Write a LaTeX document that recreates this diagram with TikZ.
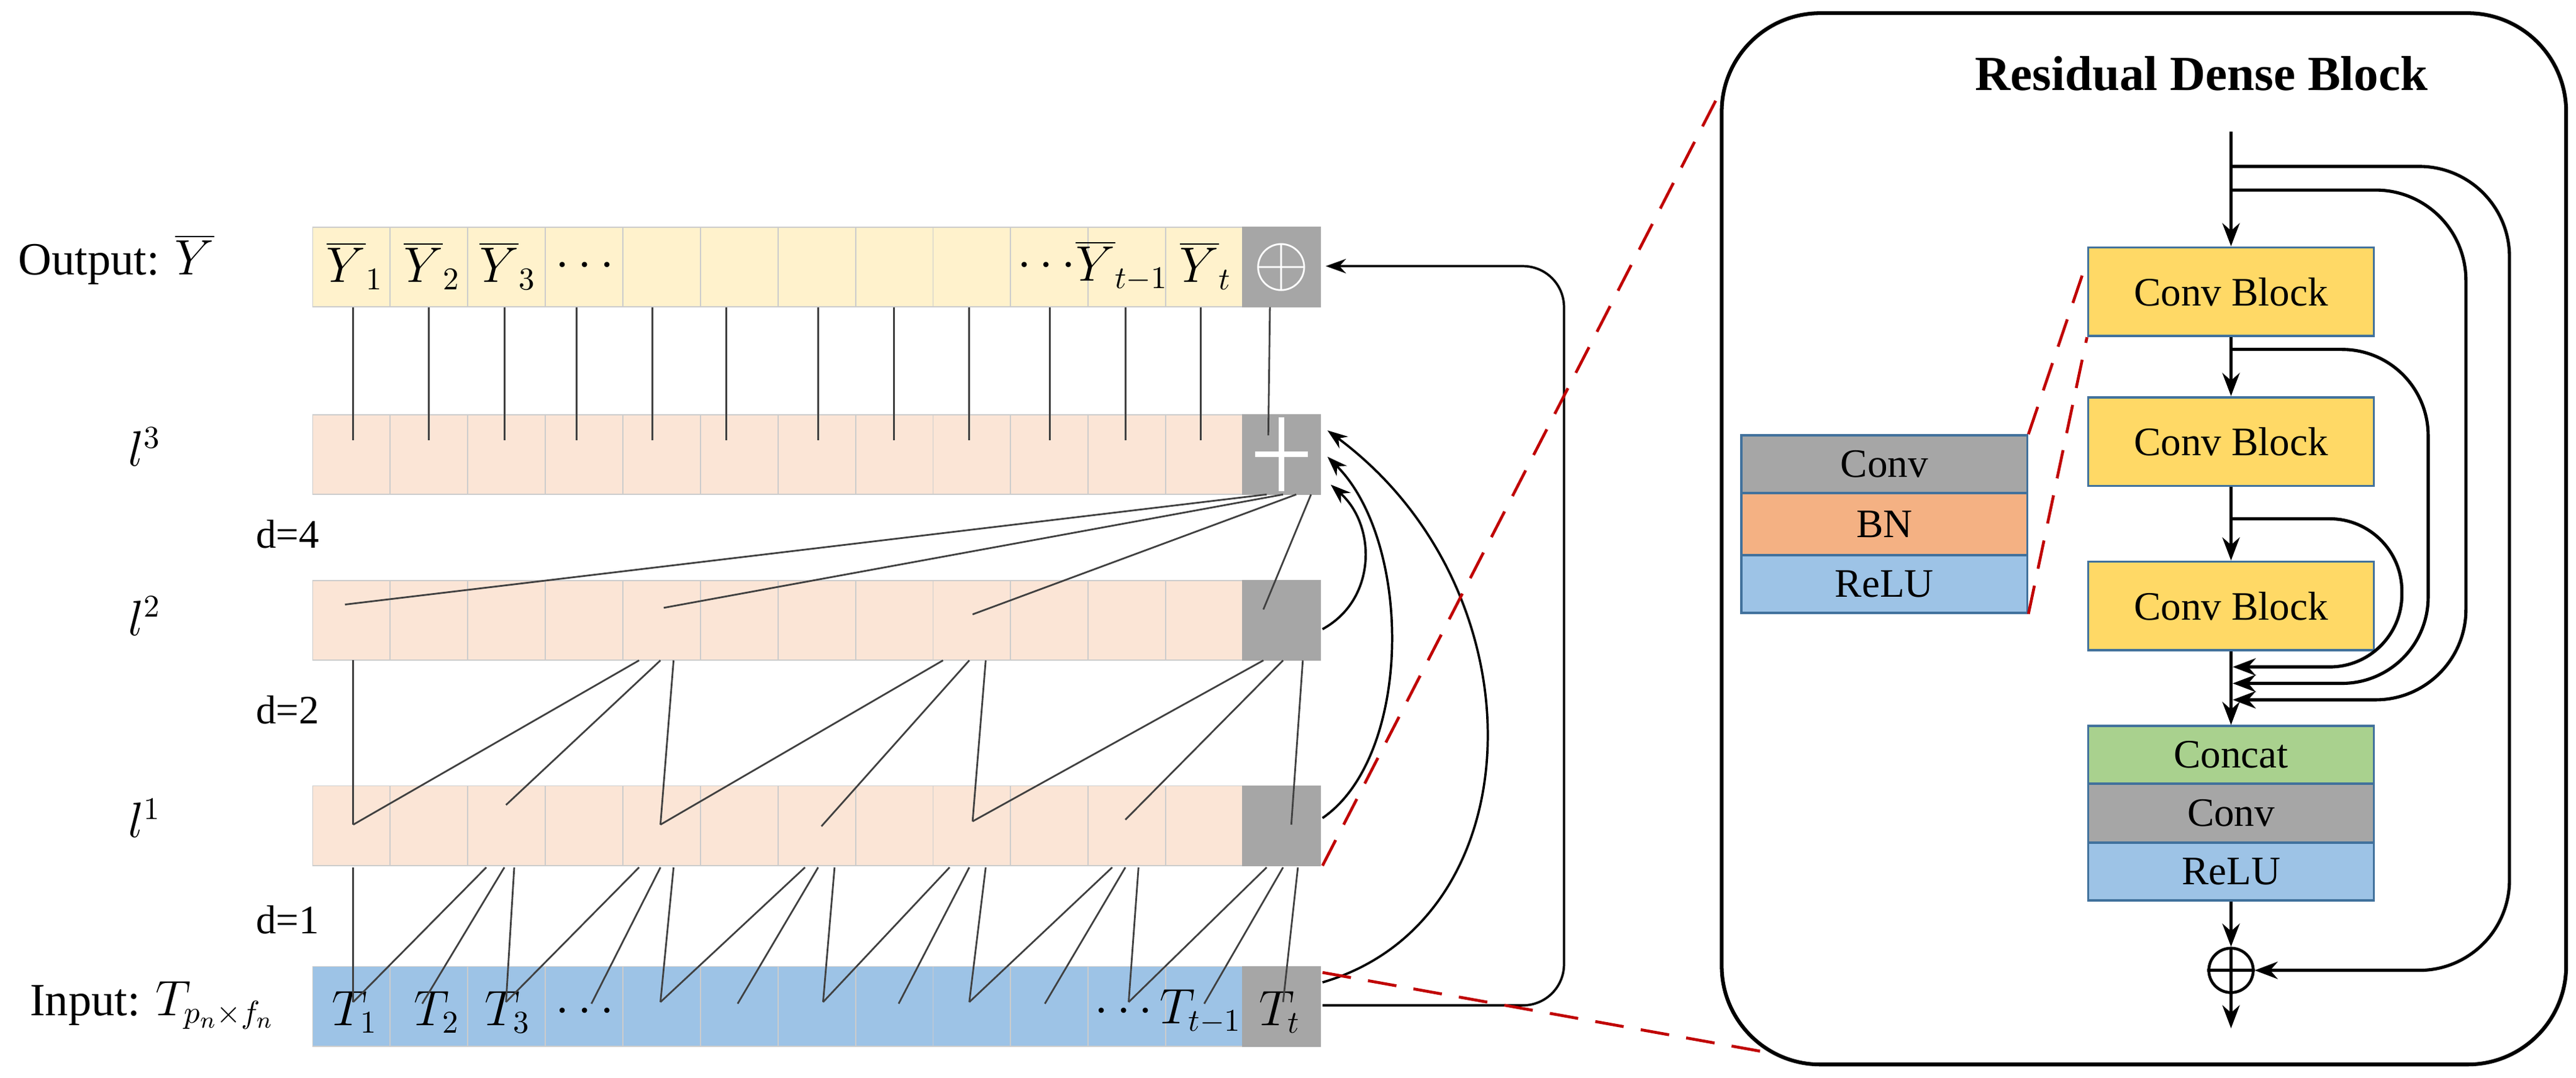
\documentclass[tikz,border=0pt]{standalone}
\usepackage{fontspec}
\setmainfont{Liberation Serif}
\usetikzlibrary{arrows.meta,calc}
\definecolor{cy}{HTML}{FFF2CC}
\definecolor{cp}{HTML}{FBE5D6}
\definecolor{cb}{HTML}{9DC3E6}
\definecolor{cg}{HTML}{A6A6A6}
\definecolor{cyy}{HTML}{FFD966}
\definecolor{cbn}{HTML}{F4B183}
\definecolor{ccat}{HTML}{A9D18E}
\definecolor{bord}{HTML}{41719C}
\definecolor{dred}{HTML}{C00000}
\definecolor{lnc}{HTML}{404040}
\begin{document}
\begin{tikzpicture}[x=0.02cm,y=-0.02cm,font=\fontsize{16}{18}\selectfont,
 cell/.style={draw=white!80!black,line width=0.4pt,minimum width=0.944cm,minimum height=0.97cm,inner sep=0,anchor=north west},
 blk/.style={draw=bord,line width=0.8pt,minimum width=3.48cm,inner sep=0,font=\fontsize{14}{16}\selectfont},
 arr/.style={-{Stealth[length=7pt,width=5pt]},line width=0.8pt},
 arrb/.style={-{Stealth[length=8pt,width=6pt]},line width=1.1pt},
 ln/.style={line width=0.6pt,lnc},
 rd/.style={dred,line width=1pt,dash pattern=on 10pt off 6pt}]
\useasboundingbox (0,0) rectangle (1568,656);
% rows
\foreach \r/\y/\c in {o/138/cy,a/252/cp,b/353/cp,c/478/cp,i/588/cb}{
 \foreach \k in {0,...,11}{\node[cell,fill=\c] (\r\k) at ({190+47.2*\k},\y) {};}
 \node[cell,fill=cg,draw=cg] (\r12) at (756,\y) {};
}
\foreach \x/\t in {216/{\overline{Y}_1},263/{\overline{Y}_2},309/{\overline{Y}_3},356/{\cdots},637/{\cdots},683/{\overline{Y}_{t-1}},734/{\overline{Y}_t}}{\node at (\x,162) {$\t$};}
\foreach \x/\t in {216/{T_1},266/{T_2},309/{T_3},356/{\cdots},684/{\cdots},731/{T_{t-1}},779/{T_t}}{\node at (\x,616) {$\t$};}
\node[text=white,font=\fontsize{28}{28}\selectfont] at (o12) {$\oplus$};
\draw[white,line width=2pt] ([xshift=-0.32cm]a12.center) -- ([xshift=0.32cm]a12.center) ([yshift=-0.45cm]a12.center) -- ([yshift=0.45cm]a12.center);
% left labels
\node[anchor=west] (Lo) at (5,158) {Output: $\overline{Y}$};
\node (L3) at (88,272) {$l^3$};
\node[font=\fontsize{14}{16}\selectfont] (d4) at (175,325) {d=4};
\node (L2) at (88,375) {$l^2$};
\node[font=\fontsize{14}{16}\selectfont] (d2) at (175,432) {d=2};
\node (L1) at (88,498) {$l^1$};
\node[font=\fontsize{14}{16}\selectfont] (d1) at (175,560) {d=1};
\node[anchor=west] (Li) at (12,612) {Input: $T_{p_n\times f_n}$};
% output-l3 lines
\foreach \x in {215,261,307,351,397,442,498,544,590,639,685,731}{\draw[ln] (\x,187) -- (\x,268);}
\draw[ln] (773,187) -- (772,265);
% l3 -> l2
\foreach \s/\x/\y in {771/210/368,781/404/370,789/592/374,798/769/371}{\draw[ln] (\s,301) -- (\x,\y);}
% l2 -> l1
\draw[ln] (215,402) -- (215,502);
\foreach \sa/\sb/\sc/\xa/\ya/\xb/\yb/\xc/\yc in {389/402/410/215/502/308/490/402/502,574/590/600/402/502/500/503/592/500,769/781/793/592/500/685/499/786/502}{
 \draw[ln] (\sa,402) -- (\xa,\ya) (\sb,402) -- (\xb,\yb) (\sc,402) -- (\xc,\yc);}
% l1 -> input
\draw[ln] (215,528) -- (215,610);
\foreach \sa/\sb/\sc/\xa/\xb/\xc in {296/307/313/215/257/308,389/402/410/308/360/402,490/498/508/402/449/501,578/590/600/501/547/590,677/685/693/590/636/687,771/781/790/687/733/781}{
 \draw[ln] (\sa,528) -- (\xa,610) (\sb,528) -- (\xb,611) (\sc,528) -- (\xc,610);}
% curved arrows
\draw[arr] (805,383) .. controls (838,365) and (838,320) .. (810,295);
\draw[arr] (805,498) .. controls (860,460) and (860,330) .. (808,278);
\draw[arr] (805,598) .. controls (935,560) and (940,360) .. (808,262);
\draw[arr,rounded corners=0.5cm] (805,612) -| (952,162) -- (807,162);
% right panel
\draw[line width=1.3pt,rounded corners=1.2cm] (1048,8) rectangle (1562,648);
\node[font=\fontsize{17}{20}\selectfont\bfseries] at (1340,45) {Residual Dense Block};
\node[blk,fill=cyy,minimum height=1.08cm] (cb1) at (1358,177.6) {Conv Block};
\node[blk,fill=cyy,minimum height=1.08cm] (cb2) at (1358,268.8) {Conv Block};
\node[blk,fill=cyy,minimum height=1.08cm] (cb3) at (1358,368.9) {Conv Block};
\node[blk,fill=ccat,minimum height=0.7cm] (cat) at (1358,459.5) {Concat};
\node[blk,fill=cg,minimum height=0.72cm] (cv) at (1358,495) {Conv};
\node[blk,fill=cb,minimum height=0.7cm] (rl) at (1358,530.5) {ReLU};
\node[blk,fill=cg,minimum height=0.7cm] (sc) at (1147,282.5) {Conv};
\node[blk,fill=cbn,minimum height=0.76cm] (sb) at (1147,319) {BN};
\node[blk,fill=cb,minimum height=0.7cm] (sr) at (1147,355.5) {ReLU};
\node[circle,draw,line width=1pt,minimum size=0.54cm,inner sep=0] (op) at (1358,590.7) {};
\draw[line width=1pt] (op.north) -- (op.south) (op.west) -- (op.east);
\coordinate (top) at (1358,80);
\coordinate (bot) at (1358,626);
\draw[arrb] (top) -- (cb1);
\draw[arrb] (cb1) -- (cb2);
\draw[arrb] (cb2) -- (cb3);
\draw[arrb] (cb3) -- (cat);
\draw[arrb] (rl) -- (op);
\draw[arrb] (op) -- (bot);
\draw[arrb,rounded corners=1.1cm] (1358,101.3) -| (1527.5,590.7) -- (op.east);
\draw[arrb,rounded corners=1.1cm] (1358,115.7) -| (1501,426) -- (1359,426);
\draw[arrb,rounded corners=1.05cm] (1358,212.7) -| (1478,416) -- (1359,416);
\draw[arrb,rounded corners=0.88cm] (1358,315.8) -| (1462,406) -- (1359,406);
% red dashes
\draw[rd] (805,527) -- (1045,60);
\draw[rd] (805,592) -- (1072,640);
\draw[rd] (sc.north east) -- (1270,160);
\draw[rd] (sr.south east) -- (cb1.south west);
\end{tikzpicture}
\end{document}
